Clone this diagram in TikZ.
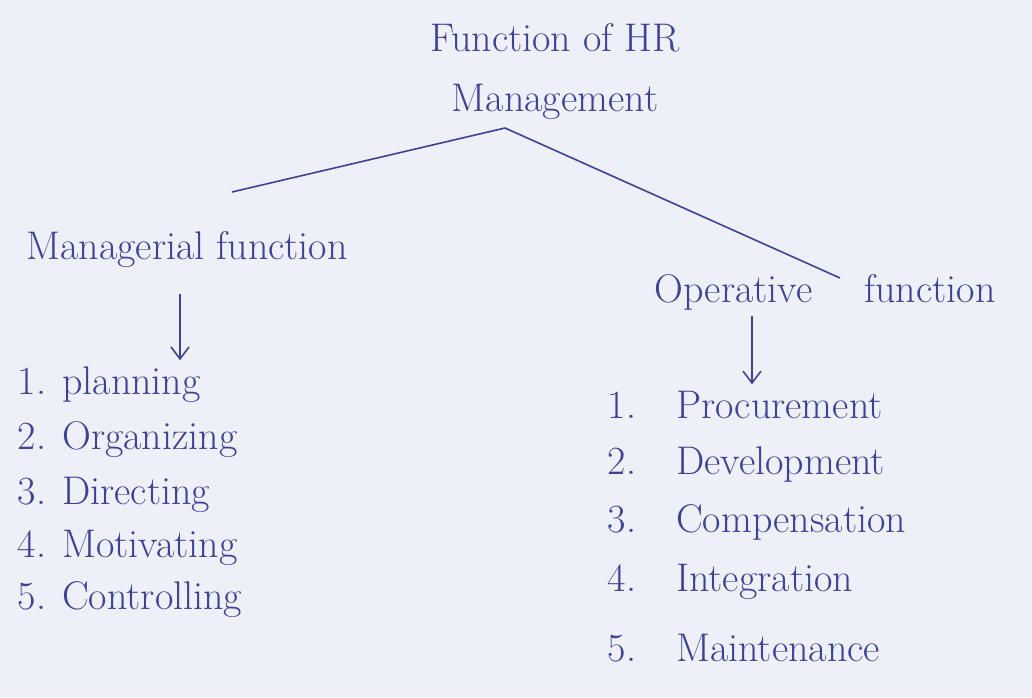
\documentclass[tikz,border=0pt]{standalone}
\usetikzlibrary{positioning, arrows, arrows.meta}

\definecolor{ink}{RGB}{62,66,150}
\definecolor{paper}{RGB}{238,240,248}

\begin{document}
\begin{tikzpicture}[
    x=0.5pt, y=-0.5pt,
    thick,
    ink/.style={draw=ink, line width=0.8pt},
    txt/.style={text=ink, inner sep=1pt, font=\fontsize{20}{26}\selectfont},
    item/.style={txt, anchor=west},
    arr/.style={ink, -{Straight Barb[length=6pt,width=9pt]}, shorten >=2pt, shorten <=2pt}
  ]

  % --- PAPER ---
  \fill[paper] (0,0) rectangle (1032,697);
  \useasboundingbox (0,0) rectangle (1032,697);

  % --- HEADINGS ---
  \node[txt, align=center] (title) at (555,72) {Function of HR\\[4pt] Management};
  \node[txt] (mgr) at (187,250) {Managerial function};
  \node[txt] (opr) at (825,292) {Operative\hspace{1.3em}function};

  % --- TREE LINES ---
  \coordinate (apex) at (505,128);
  \coordinate (mgrend) at (232,192);
  \coordinate (oprend) at (840,278);
  \draw[ink] (apex) -- (mgrend);
  \draw[ink] (apex) -- (oprend);

  % --- MANAGERIAL LIST ---
  \node[item] (m1) at (15,385) {1. planning};
  \node[item] (m2) at (15,440) {2. Organizing};
  \node[item] (m3) at (15,495) {3. Directing};
  \node[item] (m4) at (15,548) {4. Motivating};
  \node[item] (m5) at (15,600) {5. Controlling};

  % --- OPERATIVE LIST ---
  \node[item] (o1) at (605,405) {1.\hspace{1em}Procurement};
  \node[item] (o2) at (605,465) {2.\hspace{1em}Development};
  \node[item] (o3) at (605,522) {3.\hspace{1em}Compensation};
  \node[item] (o4) at (605,582) {4.\hspace{1em}Integration};
  \node[item] (o5) at (605,648) {5.\hspace{1em}Maintenance};

  % --- ARROWS ---
  \coordinate (marr) at (180,290);
  \coordinate (oarr) at (752,312);
  \draw[arr] (marr) -- (marr |- m1.north);
  \draw[arr] (oarr) -- (oarr |- o1.north);

\end{tikzpicture}
\end{document}
